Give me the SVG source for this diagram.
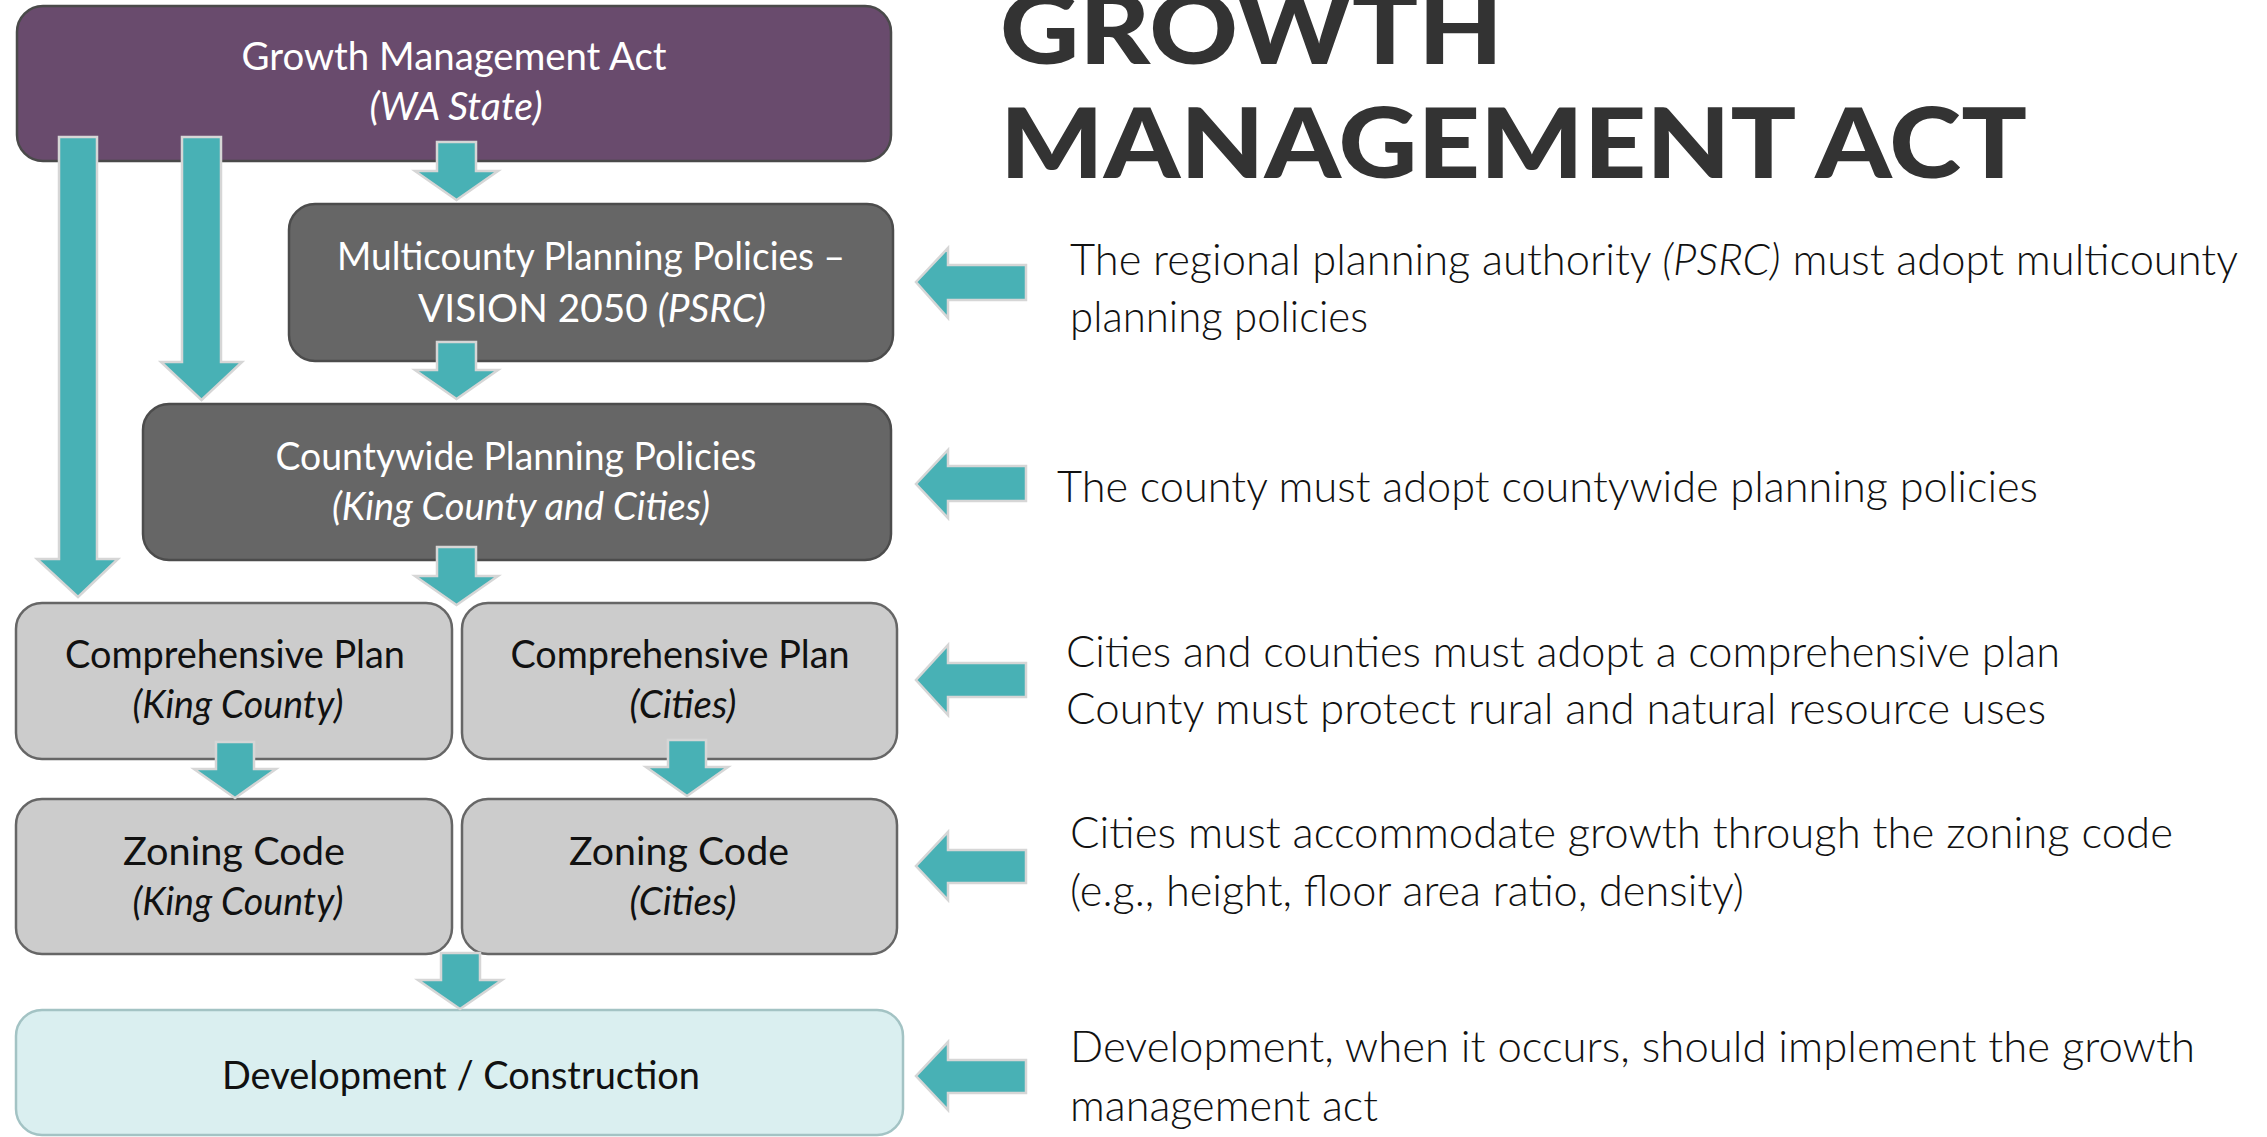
<svg xmlns="http://www.w3.org/2000/svg" width="2267" height="1137" viewBox="0 0 2267 1137">
  <style>
    .box { stroke-width: 2.5; }
    .gma { fill: #694b6d; stroke: #4a4a4a; }
    .dark { fill: #666666; stroke: #4c4c4c; }
    .light { fill: #cccccc; stroke: #666666; }
    .dev { fill: #daeff0; stroke: #a3c3c4; }
    .t { font-family: Lato, "Liberation Sans", sans-serif; font-size: 39px; text-anchor: middle; }
    .w { fill: #ffffff; }
    .k { fill: #111111; }
    .it { font-style: italic; }
    .arrow { fill: #48b1b5; stroke: #d6d6d6; stroke-width: 2.5; stroke-linejoin: miter; }
    .title { font-family: Lato, "Liberation Sans", sans-serif; font-weight: 900; font-size: 97px; fill: #333333; }
    .note { font-family: Lato, "Liberation Sans", sans-serif; font-weight: 300; font-size: 44px; fill: #111111; }
  </style>

  <!-- flow boxes -->
  <g id="node-gma">
    <rect class="box gma" x="17" y="6" width="874" height="155" rx="26"/>
    <text class="t w" x="454" y="70" textLength="425" lengthAdjust="spacingAndGlyphs">Growth Management Act</text>
    <text class="t w it" x="456" y="120" textLength="173" lengthAdjust="spacingAndGlyphs">(WA State)</text>
  </g>
  <g id="node-multicounty">
    <rect class="box dark" x="289" y="204" width="604" height="157" rx="26"/>
    <text class="t w" x="591" y="270" textLength="508" lengthAdjust="spacingAndGlyphs">Multicounty Planning Policies –</text>
    <text class="t w" x="592" y="322" textLength="348" lengthAdjust="spacingAndGlyphs">VISION 2050 <tspan class="it">(PSRC)</tspan></text>
  </g>
  <g id="node-countywide">
    <rect class="box dark" x="143" y="404" width="748" height="156" rx="26"/>
    <text class="t w" x="516" y="470" textLength="481" lengthAdjust="spacingAndGlyphs">Countywide Planning Policies</text>
    <text class="t w it" x="521" y="520" textLength="378" lengthAdjust="spacingAndGlyphs">(King County and Cities)</text>
  </g>
  <g id="node-comp-king">
    <rect class="box light" x="16" y="603" width="436" height="156" rx="26"/>
    <text class="t k" x="235" y="668" textLength="340" lengthAdjust="spacingAndGlyphs">Comprehensive Plan</text>
    <text class="t k it" x="238" y="718" textLength="211" lengthAdjust="spacingAndGlyphs">(King County)</text>
  </g>
  <g id="node-comp-cities">
    <rect class="box light" x="462" y="603" width="435" height="156" rx="26"/>
    <text class="t k" x="680" y="668" textLength="339" lengthAdjust="spacingAndGlyphs">Comprehensive Plan</text>
    <text class="t k it" x="683" y="718" textLength="107" lengthAdjust="spacingAndGlyphs">(Cities)</text>
  </g>
  <g id="node-zoning-king">
    <rect class="box light" x="16" y="799" width="436" height="155" rx="26"/>
    <text class="t k" x="234" y="865" textLength="222" lengthAdjust="spacingAndGlyphs">Zoning Code</text>
    <text class="t k it" x="238" y="915" textLength="211" lengthAdjust="spacingAndGlyphs">(King County)</text>
  </g>
  <g id="node-zoning-cities">
    <rect class="box light" x="462" y="799" width="435" height="155" rx="26"/>
    <text class="t k" x="679" y="865" textLength="220" lengthAdjust="spacingAndGlyphs">Zoning Code</text>
    <text class="t k it" x="683" y="915" textLength="107" lengthAdjust="spacingAndGlyphs">(Cities)</text>
  </g>
  <g id="node-development">
    <rect class="box dev" x="16" y="1010" width="887" height="125" rx="26"/>
    <text class="t k" x="461" y="1089" textLength="478" lengthAdjust="spacingAndGlyphs">Development / Construction</text>
  </g>

  <!-- block arrows -->
  <g id="connectors">
    <polygon class="arrow" points="59,137 97,137 97,559 118,559 78,597 37,559 59,559"/>
    <polygon class="arrow" points="182,137 221,137 221,362 242,362 201.5,400 161,362 182,362"/>
    <polygon class="arrow" points="437,142 476,142 476,171 498,171 456.5,200 415,171 437,171"/>
    <polygon class="arrow" points="437,342 476,342 476,370 498,370 456.5,399 415,370 437,370"/>
    <polygon class="arrow" points="437,547 476,547 476,576 498,576 456.5,605 415,576 437,576"/>
    <polygon class="arrow" points="216,742 254,742 254,769 276,769 235,798 194,769 216,769"/>
    <polygon class="arrow" points="668,740 706,740 706,767 728,767 687,796 646,767 668,767"/>
    <polygon class="arrow" points="441,953 480,953 480,980 502,980 460,1009 418,980 441,980"/>

    <polygon class="arrow" points="1026,265 1026,300 948,300 948,318 916,282 948,248 948,265"/>
    <polygon class="arrow" points="1026,466 1026,501 948,501 948,518 916,484 948,450 948,466"/>
    <polygon class="arrow" points="1026,663 1026,697 948,697 948,715 916,680 948,645 948,663"/>
    <polygon class="arrow" points="1026,850 1026,883 948,883 948,900 916,866 948,832 948,850"/>
    <polygon class="arrow" points="1026,1060 1026,1093 948,1093 948,1110 916,1076 948,1042 948,1060"/>
  </g>

  <!-- heading -->
  <g id="heading">
    <text class="title" x="1000" y="64" textLength="503" lengthAdjust="spacingAndGlyphs">GROWTH</text>
    <text class="title" x="1000" y="178" textLength="1027" lengthAdjust="spacingAndGlyphs">MANAGEMENT ACT</text>
  </g>

  <!-- explanatory notes -->
  <g id="notes">
    <text class="note" x="1070" y="275" textLength="1168" lengthAdjust="spacingAndGlyphs">The regional planning authority <tspan font-style="italic">(PSRC)</tspan> must adopt multicounty</text>
    <text class="note" x="1070" y="332" textLength="298" lengthAdjust="spacingAndGlyphs">planning policies</text>
    <text class="note" x="1057" y="502" textLength="981" lengthAdjust="spacingAndGlyphs">The county must adopt countywide planning policies</text>
    <text class="note" x="1066" y="667" textLength="994" lengthAdjust="spacingAndGlyphs">Cities and counties must adopt a comprehensive plan</text>
    <text class="note" x="1066" y="724" textLength="980" lengthAdjust="spacingAndGlyphs">County must protect rural and natural resource uses</text>
    <text class="note" x="1070" y="848" textLength="1103" lengthAdjust="spacingAndGlyphs">Cities must accommodate growth through the zoning code</text>
    <text class="note" x="1070" y="906" textLength="674" lengthAdjust="spacingAndGlyphs">(e.g., height, floor area ratio, density)</text>
    <text class="note" x="1070" y="1062" textLength="1125" lengthAdjust="spacingAndGlyphs">Development, when it occurs, should implement the growth</text>
    <text class="note" x="1070" y="1121" textLength="308" lengthAdjust="spacingAndGlyphs">management act</text>
  </g>
</svg>
